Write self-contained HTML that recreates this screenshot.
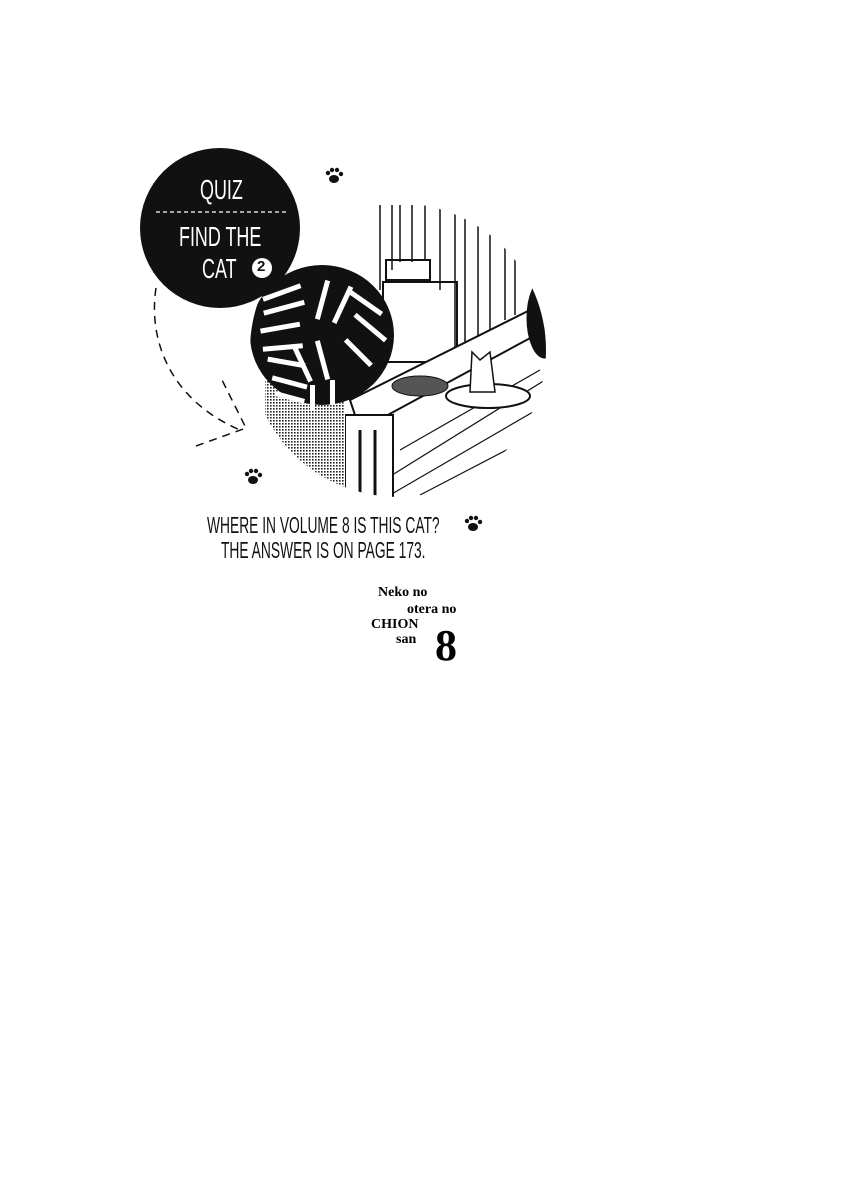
<!DOCTYPE html>
<html><head><meta charset="utf-8"><style>
html,body{margin:0;padding:0;background:#fff;}
body{width:847px;height:1200px;position:relative;overflow:hidden;}
.c{position:absolute;font-family:"Liberation Sans Narrow","Liberation Sans",sans-serif;white-space:nowrap;transform-origin:0 0;}
.s{position:absolute;font-family:"Liberation Serif",serif;font-weight:bold;white-space:nowrap;}
</style></head><body>
<svg width="847" height="1200" style="position:absolute;left:0;top:0">
<defs>
<clipPath id="cc"><ellipse cx="398" cy="350" rx="148" ry="147"/></clipPath>
<pattern id="dot" width="3" height="3" patternUnits="userSpaceOnUse"><rect width="3" height="3" fill="#fff"/><rect width="1.6" height="1.6" fill="#222"/></pattern>
</defs>
<g clip-path="url(#cc)" stroke="#111" fill="none">
<g stroke-width="1.5">
<line x1="380" y1="205" x2="380" y2="290"/><line x1="392" y1="205" x2="392" y2="270"/>
<line x1="400" y1="205" x2="400" y2="262"/><line x1="412" y1="205" x2="412" y2="262"/>
<line x1="425" y1="205" x2="425" y2="260"/><line x1="440" y1="205" x2="440" y2="290"/>
<line x1="455" y1="205" x2="455" y2="360"/><line x1="465" y1="210" x2="465" y2="350"/>
<line x1="478" y1="210" x2="478" y2="345"/><line x1="490" y1="215" x2="490" y2="330"/>
<line x1="505" y1="220" x2="505" y2="320"/><line x1="515" y1="225" x2="515" y2="315"/>
</g>
<rect x="386" y="260" width="44" height="20" stroke-width="2"/>
<rect x="383" y="282" width="74" height="80" stroke-width="2"/>
<path d="M350 400 L530 310 L545 330 L360 430Z" stroke-width="2" fill="#fff"/>
<g stroke-width="1.2">
<line x1="360" y1="495" x2="545" y2="380"/><line x1="390" y1="495" x2="545" y2="405"/>
<line x1="420" y1="495" x2="545" y2="430"/><line x1="450" y1="495" x2="545" y2="455"/>
<line x1="400" y1="450" x2="540" y2="370"/>
</g>
<rect x="345" y="415" width="48" height="90" fill="#fff" stroke-width="2"/>
<line x1="360" y1="430" x2="360" y2="500" stroke-width="3"/><line x1="375" y1="430" x2="375" y2="500" stroke-width="3"/>
<rect x="265" y="380" width="80" height="130" fill="url(#dot)" stroke="none"/>
<ellipse cx="488" cy="396" rx="42" ry="12" fill="#fff" stroke-width="2"/>
<path d="M470 392 L472 352 L480 360 L490 352 L495 392Z" fill="#fff" stroke-width="1.5"/>
<ellipse cx="420" cy="386" rx="28" ry="10" fill="#555" stroke-width="1"/>
<ellipse cx="545" cy="318" rx="18" ry="40" fill="#111"/>
<g stroke="none">
<ellipse cx="322" cy="335" rx="72" ry="70" fill="#111"/>
<g fill="#fff">
<rect x="262" y="290" width="40" height="5" transform="rotate(-20 282 293)"/>
<rect x="265" y="305" width="42" height="5" transform="rotate(-15 286 315)"/>
<rect x="262" y="325" width="40" height="5" transform="rotate(-10 282 338)"/>
<rect x="262" y="345" width="40" height="5" transform="rotate(-5 282 338)"/>
<rect x="268" y="360" width="38" height="5" transform="rotate(10 287 359)"/>
<rect x="272" y="380" width="36" height="5" transform="rotate(15 290 381)"/>
<rect x="275" y="395" width="30" height="5" transform="rotate(15 290 397)"/>
<rect x="320" y="280" width="5" height="40" transform="rotate(15 323 300)"/>
<rect x="340" y="285" width="5" height="40" transform="rotate(25 343 305)"/>
<rect x="345" y="300" width="40" height="5" transform="rotate(35 365 303)"/>
<rect x="350" y="325" width="40" height="5" transform="rotate(40 370 328)"/>
<rect x="320" y="340" width="5" height="40" transform="rotate(-15 323 360)"/>
<rect x="300" y="345" width="5" height="38" transform="rotate(-25 303 364)"/>
<rect x="340" y="350" width="36" height="5" transform="rotate(45 358 353)"/>
<rect x="310" y="385" width="5" height="25"/>
<rect x="330" y="380" width="5" height="25"/>
</g>
</g>
</g>
<circle cx="220" cy="228" r="80" fill="#111"/>
<line x1="156" y1="212" x2="286" y2="212" stroke="#fff" stroke-width="1.2" stroke-dasharray="4,3"/>
<circle cx="262" cy="268" r="10" fill="#fff"/>
<path d="M156 288 C148 340 170 400 240 430" fill="none" stroke="#111" stroke-width="1.5" stroke-dasharray="8,6"/>
<path d="M196 446 L246 428 L220 376" fill="none" stroke="#111" stroke-width="1.5" stroke-dasharray="8,6"/>
<g fill="#111">
<g transform="translate(334,176)"><ellipse cx="0" cy="3" rx="5" ry="4"/><circle cx="-6" cy="-3" r="2.2"/><circle cx="-2" cy="-6" r="2.2"/><circle cx="3" cy="-6" r="2.2"/><circle cx="7" cy="-2" r="2.2"/></g>
<g transform="translate(253,477)"><ellipse cx="0" cy="3" rx="5" ry="4"/><circle cx="-6" cy="-3" r="2.2"/><circle cx="-2" cy="-6" r="2.2"/><circle cx="3" cy="-6" r="2.2"/><circle cx="7" cy="-2" r="2.2"/></g>
<g transform="translate(473,524)"><ellipse cx="0" cy="3" rx="5" ry="4"/><circle cx="-6" cy="-3" r="2.2"/><circle cx="-2" cy="-6" r="2.2"/><circle cx="3" cy="-6" r="2.2"/><circle cx="7" cy="-2" r="2.2"/></g>
</g>
</svg>
<div class="c" style="left:200px;top:174px;font-size:28px;color:#fff;transform:scaleX(0.64)">QUIZ</div>
<div class="c" style="left:179px;top:221px;font-size:28px;color:#fff;transform:scaleX(0.64)">FIND THE</div>
<div class="c" style="left:202px;top:253px;font-size:28px;color:#fff;transform:scaleX(0.64)">CAT</div>
<div class="c" style="left:257px;top:258px;font-size:15px;color:#111;font-weight:bold;font-family:'Liberation Sans',sans-serif">2</div>
<div class="c" style="left:207px;top:512px;font-size:23px;color:#111;transform:scaleX(0.6)">WHERE IN VOLUME 8 IS THIS CAT?</div>
<div class="c" style="left:221px;top:537px;font-size:23px;color:#111;transform:scaleX(0.6)">THE ANSWER IS ON PAGE 173.</div>
<div class="s" style="left:378px;top:585px;font-size:14px">Neko no</div>
<div class="s" style="left:407px;top:602px;font-size:14px">otera no</div>
<div class="s" style="left:371px;top:617px;font-size:14px">CHION</div>
<div class="s" style="left:396px;top:632px;font-size:14px">san</div>
<div class="s" style="left:435px;top:620px;font-size:44px">8</div>
</body></html>
